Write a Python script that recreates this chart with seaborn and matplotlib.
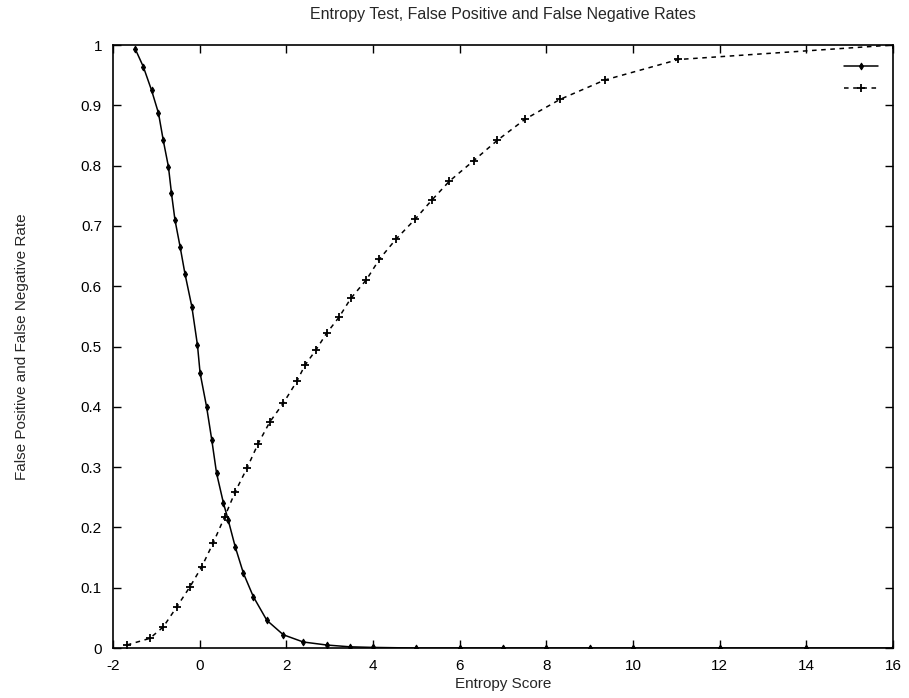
import numpy as np
import pandas as pd
import matplotlib
matplotlib.use("Agg")
import matplotlib.pyplot as plt
import seaborn as sns

# Falling curve (solid, diamond points)
fn_x = [-1.49, -1.30, -1.11, -0.95, -0.84, -0.72, -0.65, -0.57, -0.45, -0.34, -0.18,
        -0.05, 0.01, 0.16, 0.28, 0.39, 0.55, 0.66, 0.82, 1.01, 1.24, 1.55, 1.93,
        2.39, 2.93, 3.47, 4.0, 5.0, 6.0, 7.0, 8.0, 9.0, 10.0, 12.0, 14.0, 16.0]
fn_y = [0.994, 0.964, 0.925, 0.887, 0.842, 0.798, 0.754, 0.710, 0.665, 0.621, 0.566,
        0.502, 0.456, 0.400, 0.345, 0.290, 0.240, 0.212, 0.168, 0.124, 0.085, 0.046, 0.022,
        0.010, 0.005, 0.002, 0.001, 0.0, 0.0, 0.0, 0.0, 0.0, 0.0, 0.0, 0.0, 0.0]

# Rising curve (dashed, plus points)
fp_x = [-1.68, -1.15, -0.84, -0.53, -0.22, 0.05, 0.31, 0.58, 0.82, 1.09, 1.35, 1.62,
        1.93, 2.24, 2.43, 2.68, 2.93, 3.22, 3.49, 3.85, 4.15, 4.53, 4.97, 5.36, 5.76,
        6.32, 6.87, 7.51, 8.32, 9.35, 11.05, 16.0]
fp_y = [0.005, 0.016, 0.035, 0.068, 0.102, 0.135, 0.174, 0.218, 0.259, 0.298, 0.339, 0.375,
        0.406, 0.442, 0.469, 0.494, 0.522, 0.549, 0.580, 0.611, 0.645, 0.678, 0.711, 0.743, 0.774,
        0.808, 0.842, 0.877, 0.910, 0.942, 0.976, 1.0]

title = "Entropy Test, False Positive and False Negative Rates"
xlabel = "Entropy Score"
ylabel = "False Positive and False Negative Rate"
xticks = [-2, 0, 2, 4, 6, 8, 10, 12, 14, 16]
yticks = [0, 0.1, 0.2, 0.3, 0.4, 0.5, 0.6, 0.7, 0.8, 0.9, 1.0]
ytick_labels = ["0", "0.1", "0.2", "0.3", "0.4", "0.5", "0.6", "0.7", "0.8", "0.9", "1"]

sns.set_theme(style="ticks")
plt.rcParams["font.family"] = ["Liberation Sans", "DejaVu Sans"]

fig = plt.figure(figsize=(9.09, 6.98), dpi=100)
ax = fig.add_axes([0.1243, 0.0716, 0.8581, 0.8639])

df_fn = pd.DataFrame({"x": fn_x, "y": fn_y})
df_fp = pd.DataFrame({"x": fp_x, "y": fp_y})

sns.lineplot(data=df_fn, x="x", y="y", ax=ax, color="black", linewidth=1.1,
             marker="d", markersize=3.5, markeredgewidth=0.7,
             markeredgecolor="black", markerfacecolor="black", sort=False)
sns.lineplot(data=df_fp, x="x", y="y", ax=ax, color="black", linewidth=1.1,
             linestyle=(0, (3, 3)), marker="+", markersize=6, markeredgewidth=1.3,
             markeredgecolor="black", sort=False)

ax.set_xlim(-2, 16)
ax.set_ylim(0, 1)
ax.set_xticks(xticks)
ax.set_xticklabels([str(t) for t in xticks])
ax.set_yticks(yticks)
ax.set_yticklabels(ytick_labels)
ax.tick_params(direction="in", length=6, width=1, top=True, right=True,
               labelsize=11, colors="black", pad=8)
for s in ax.spines.values():
    s.set_visible(True)
    s.set_color("black")
    s.set_linewidth(1.2)

ax.set_title(title, fontsize=11.5, pad=19)
ax.set_xlabel(xlabel, fontsize=11, labelpad=3)
ax.set_ylabel(ylabel, fontsize=11, labelpad=37)

lines = ax.get_lines()
leg = ax.legend([lines[0], lines[1]], ["", ""], loc="upper right", frameon=False,
                handlelength=2.2, handletextpad=0, borderaxespad=0.6, labelspacing=0.5)

fig.savefig("out.png", dpi=100)
